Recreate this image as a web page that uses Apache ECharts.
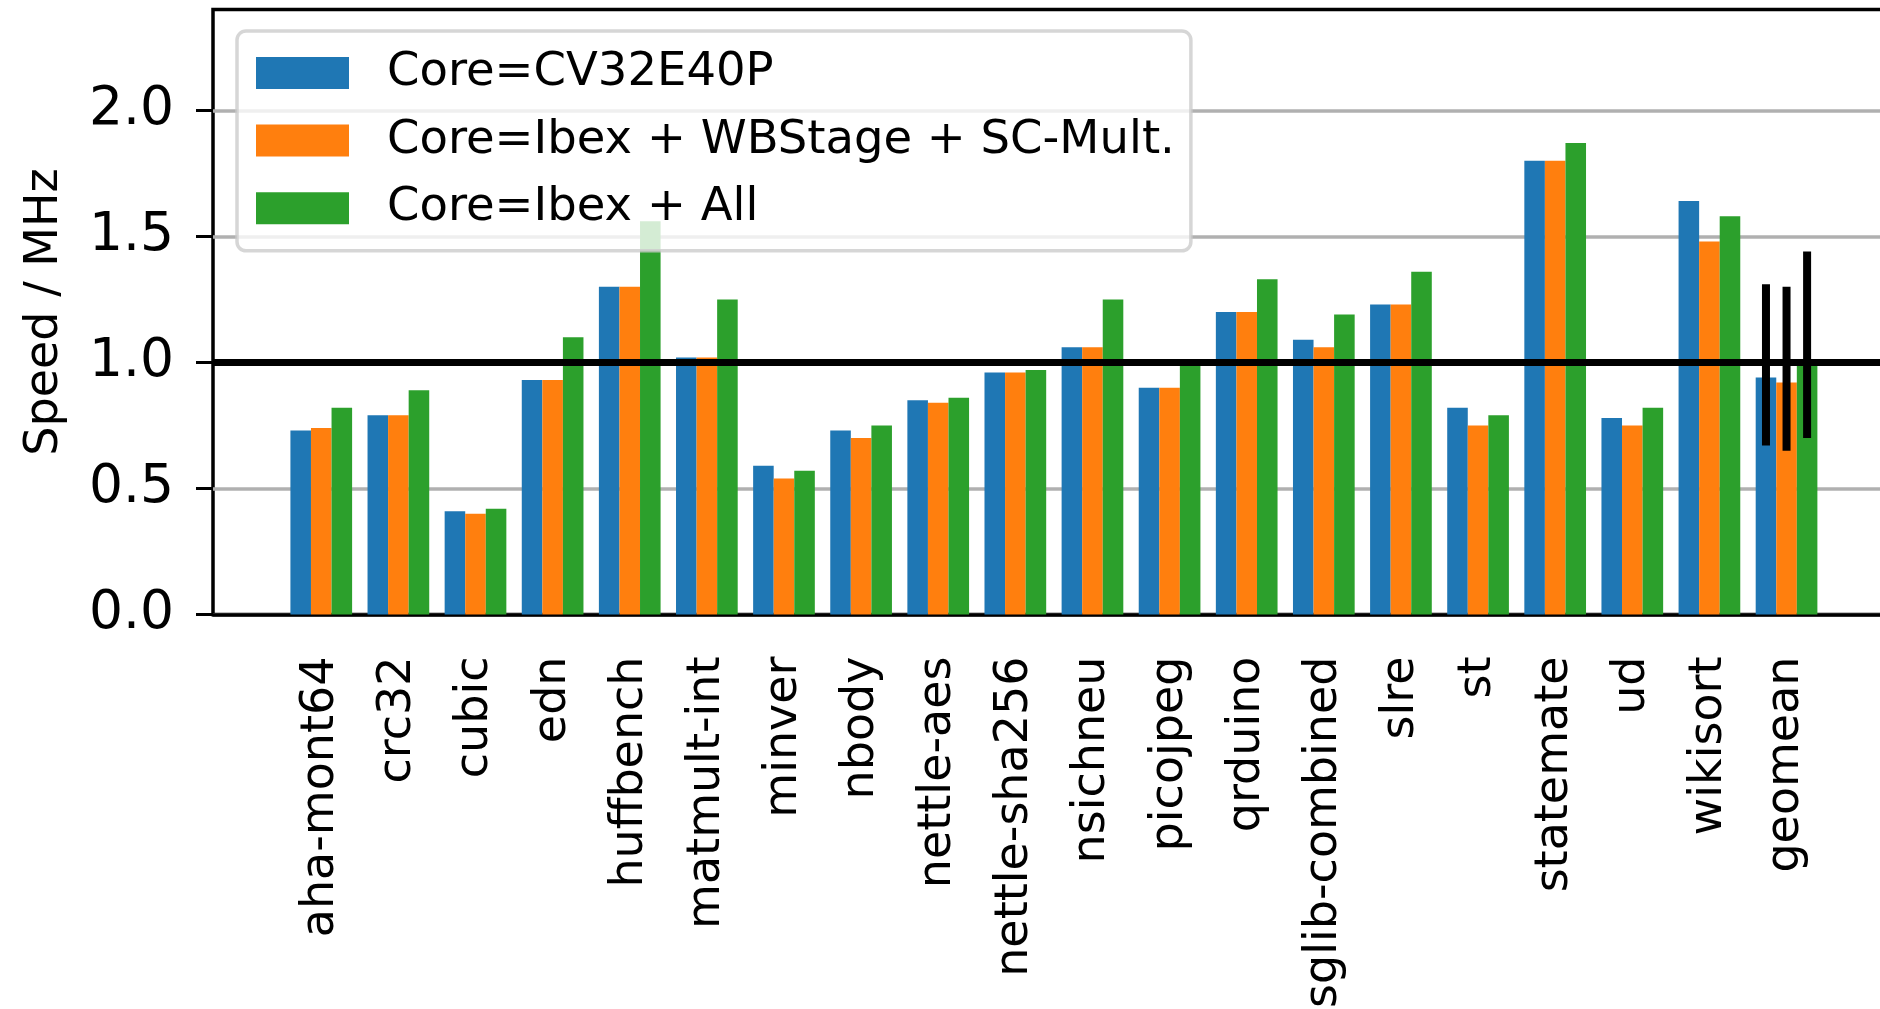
<!DOCTYPE html>
<html>
<head>
<meta charset="utf-8">
<script src="https://cdn.jsdelivr.net/npm/echarts@6/dist/echarts.min.js"></script>
<style>
  html, body { margin: 0; padding: 0; background: #fff; }
  #chart { width: 1880px; height: 1009px; }
</style>
</head>
<body>
<div id="chart"></div>
<script>
const benchmarks = ['aha-mont64', 'crc32', 'cubic', 'edn', 'huffbench', 'matmult-int', 'minver',
  'nbody', 'nettle-aes', 'nettle-sha256', 'nsichneu', 'picojpeg', 'qrduino', 'sglib-combined',
  'slre', 'st', 'statemate', 'ud', 'wikisort', 'geomean']

const cv32e40p = [0.73, 0.79, 0.41, 0.93, 1.30, 1.02, 0.59, 0.73, 0.85, 0.96, 1.06, 0.90, 1.20, 1.09, 1.23, 0.82, 1.80, 0.78, 1.64, 0.94]
const ibexWbMult = [0.74, 0.79, 0.40, 0.93, 1.30, 1.02, 0.54, 0.70, 0.84, 0.96, 1.06, 0.90, 1.20, 1.06, 1.23, 0.75, 1.80, 0.75, 1.48, 0.92]
const ibexAll = [0.82, 0.89, 0.42, 1.10, 1.56, 1.25, 0.57, 0.75, 0.86, 0.97, 1.25, 1.00, 1.33, 1.19, 1.36, 0.79, 1.87, 0.82, 1.58, 1.01]

// geomean spread: [series index, low, high]
const geomeanErr = [[0, 0.67, 1.31], [1, 0.65, 1.30], [2, 0.70, 1.44]]

const seriesNames = ['Core=CV32E40P', 'Core=Ibex + WBStage + SC-Mult.', 'Core=Ibex + All']
const colors = ['#1f77b4', '#ff7f0e', '#2ca02c']
const yTicks = [0, 0.5, 1, 1.5, 2]

const chart = echarts.init(document.getElementById('chart'))
const font = 'DejaVu Sans'
const gTop = 9.5, gBottom = 394.5

function barSeries(i, data) {
  return {
    name: seriesNames[i],
    type: 'bar',
    xAxisIndex: 1,
    yAxisIndex: 1,
    data: data,
    barGap: '0%',
    barCategoryGap: '20%',
    itemStyle: { color: colors[i] },
    z: 3
  }
}

chart.setOption({
  animation: false,
  grid: [
    { left: 213, right: -20, top: gTop, bottom: gBottom, outerBoundsMode: 'none', show: true, borderColor: '#000', borderWidth: 3.5, backgroundColor: 'transparent' },
    { left: 282.7, right: 54.9, top: gTop, bottom: gBottom, outerBoundsMode: 'none' }
  ],
  legend: {
    orient: 'vertical',
    left: 237,
    top: 31,
    data: seriesNames,
    icon: 'rect',
    itemWidth: 93,
    itemHeight: 32,
    itemGap: 20.7,
    padding: [18.4, 16, 19, 19],
    backgroundColor: 'rgba(255,255,255,0.8)',
    borderColor: 'rgba(204,204,204,0.8)',
    borderWidth: 3.5,
    borderRadius: 9,
    textStyle: { fontFamily: font, fontSize: 46.5, color: '#000', padding: [0, 0, 0, 33] },
    z: 10
  },
  xAxis: [
    {
      type: 'value', gridIndex: 0, min: 0, max: 1,
      axisLine: { show: true, lineStyle: { color: '#000', width: 3.5 } },
      axisTick: { show: false },
      axisLabel: { show: false },
      splitLine: { show: false }
    },
    {
      type: 'category',
      gridIndex: 1,
      data: benchmarks,
      axisLine: { show: false },
      axisTick: { alignWithLabel: true, length: 18, lineStyle: { color: '#000', width: 3 } },
      axisLabel: { rotate: 90, interval: 0, margin: 42, fontFamily: font, fontSize: 46, color: '#000' }
    }
  ],
  yAxis: [
    {
      type: 'value',
      gridIndex: 0,
      min: 0,
      max: 2.4,
      interval: 0.5,
      name: 'Speed / MHz',
      nameLocation: 'middle',
      nameGap: 145,
      nameTextStyle: { fontFamily: font, fontSize: 46, color: '#000' },
      axisLine: { show: false },
      axisTick: { show: true, length: 17, lineStyle: { color: '#000', width: 3 }, customValues: yTicks },
      axisLabel: { margin: 39, fontFamily: font, fontSize: 53.5, color: '#000', customValues: yTicks, formatter: v => v.toFixed(1) },
      splitLine: { show: true, lineStyle: { color: '#b0b0b0', width: 3.5 } }
    },
    { type: 'value', gridIndex: 1, min: 0, max: 2.4, show: false }
  ],
  series: [
    {
      type: 'line',
      xAxisIndex: 0,
      yAxisIndex: 0,
      data: [],
      silent: true,
      z: 1,
      markLine: {
        silent: true,
        symbol: 'none',
        label: { show: false },
        lineStyle: { color: '#000', width: 7, type: 'solid' },
        data: [{ yAxis: 1 }]
      }
    },
    barSeries(0, cv32e40p),
    barSeries(1, ibexWbMult),
    barSeries(2, ibexAll),
    {
      type: 'custom',
      xAxisIndex: 1,
      yAxisIndex: 1,
      z: 5,
      silent: true,
      data: geomeanErr.map(e => [benchmarks.length - 1, e[0], e[1], e[2]]),
      renderItem(params, api) {
        const idx = api.value(0)
        const lo = api.coord([idx, api.value(2)])
        const hi = api.coord([idx, api.value(3)])
        const bw = api.size([1, 0])[0] * 0.8 / 3
        const x = lo[0] + (api.value(1) - 1) * bw
        return {
          type: 'line',
          shape: { x1: x, y1: lo[1], x2: x, y2: hi[1] },
          style: { stroke: '#000', lineWidth: 8 }
        }
      }
    }
  ]
})
</script>
</body>
</html>
